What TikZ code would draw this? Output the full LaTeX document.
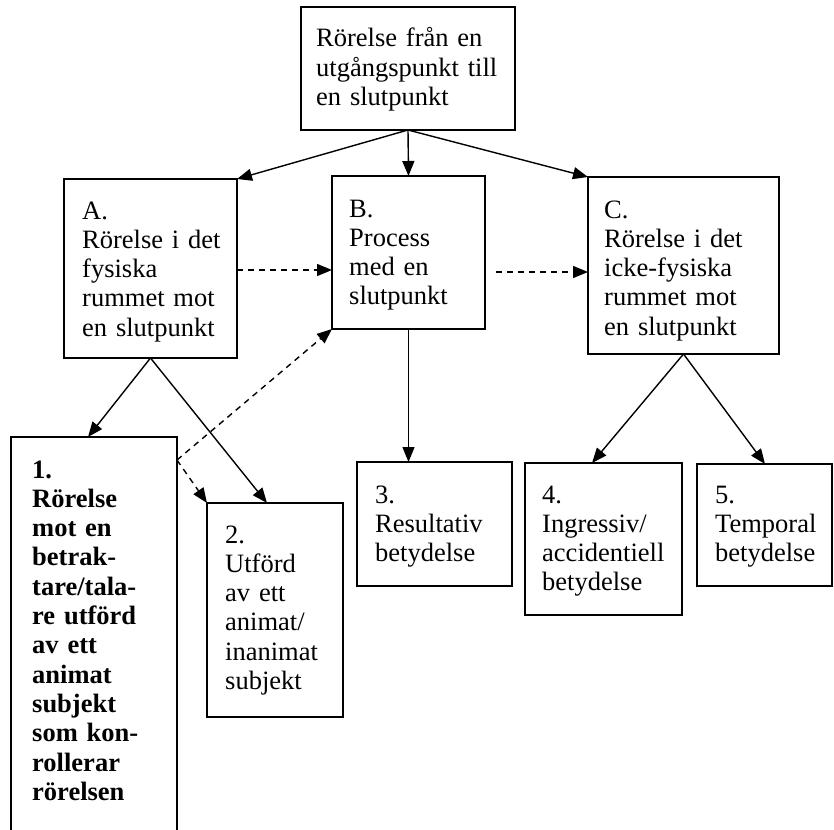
\documentclass[tikz,border=0pt]{standalone}
\usepackage{fontspec}
\setmainfont{Liberation Serif}
\usetikzlibrary{arrows.meta}
\begin{document}
\begin{tikzpicture}[x=1pt,y=-1pt,
  boxx/.style={draw,line width=1.6pt,inner sep=0pt,outer sep=0pt,anchor=north west},
  txt/.style={anchor=base west,inner sep=0pt,align=left,font=\fontsize{26.5}{29.3}\selectfont},
  conn/.style={line width=1.4pt,-{Triangle[length=15pt,width=12pt]}},
  dconn/.style={conn,dash pattern=on 6pt off 5pt}]
\useasboundingbox (0,0) rectangle (834,829);

% boxes
\node[boxx,minimum width=214pt,minimum height=123pt] (top) at (301,7) {};
\node[boxx,minimum width=173pt,minimum height=179pt] (A) at (64,179) {};
\node[boxx,minimum width=153pt,minimum height=153pt] (B) at (332,176) {};
\node[boxx,minimum width=191pt,minimum height=177pt] (C) at (588,177) {};
\node[boxx,minimum width=166pt,minimum height=420pt] (b1) at (11,437) {};
\node[boxx,minimum width=136pt,minimum height=214pt] (b2) at (207,503) {};
\node[boxx,minimum width=155pt,minimum height=124pt] (b3) at (357,462) {};
\node[boxx,minimum width=157pt,minimum height=152pt] (b4) at (525,463) {};
\node[boxx,minimum width=135pt,minimum height=122pt] (b5) at (697,464) {};

% texts
\node[txt,text width=195pt] (topt) at (316,47) {Rörelse från en\\utgångspunkt till\\en slutpunkt};
\node[txt,text width=150pt] (At) at (82,219) {A.\\Rörelse i det\\fysiska\\rummet mot\\en slutpunkt};
\node[txt,text width=132pt] (Bt) at (349,217) {B.\\Process\\med en\\slutpunkt};
\node[txt,text width=172pt] (Ct) at (604,218) {C.\\Rörelse i det\\icke-fysiska\\rummet mot\\en slutpunkt};
\node[txt,text width=140pt,font=\fontsize{26.5}{29.3}\selectfont\bfseries] (b1t) at (32,478) {1.\\Rörelse\\mot en\\betrak-\\tare/tala-\\re utförd\\av ett\\animat\\subjekt\\som kon-\\rollerar\\rörelsen};
\node[txt,text width=115pt] (b2t) at (225,543) {2.\\Utförd\\av ett\\animat/\\inanimat\\subjekt};
\node[txt,text width=135pt] (b3t) at (375,503) {3.\\Resultativ\\betydelse};
\node[txt,text width=138pt] (b4t) at (542,503) {4.\\Ingressiv/\\accidentiell\\betydelse};
\node[txt,text width=115pt] (b5t) at (715,503) {5.\\Temporal\\betydelse};

% connectors
\draw[conn] (top.south) -- (A.north east);
\draw[conn] (top.south) -- (B.north);
\draw[conn] (top.south) -- (C.north west);

\coordinate (ab) at (0,270);
\draw[dconn] (A.east |- ab) -- (B.west |- ab);
\coordinate (bc) at (496,272);
\draw[dconn] (bc) -- (C.west |- bc);

\coordinate (b1in) at (88,0);
\coordinate (b2in) at (267,0);
\draw[conn] (A.south) -- (b1.north -| b1in);
\draw[conn] (A.south) -- (b2.north -| b2in);

\coordinate (j) at (177,460);
\draw[dconn] (j) -- (B.south west);
\draw[dconn] (j) -- (b2.north west);

\draw[conn] (B.south) -- (B.south |- b3.north);

\coordinate (b4in) at (592,0);
\coordinate (b5in) at (765,0);
\draw[conn] (C.south) -- (b4.north -| b4in);
\draw[conn] (C.south) -- (b5.north -| b5in);
\end{tikzpicture}
\end{document}
